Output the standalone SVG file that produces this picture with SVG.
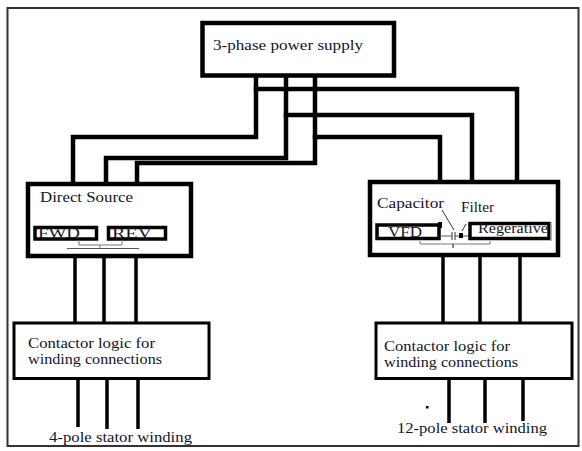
<svg xmlns="http://www.w3.org/2000/svg" width="582" height="451" viewBox="0 0 582 451">
<style>
.box{fill:#fff;stroke:#000;stroke-width:4.5}
.sub{fill:#fff;stroke:#000;stroke-width:3.5}
.w{fill:none;stroke:#000;stroke-width:4.5;stroke-linejoin:miter;stroke-linecap:square}
.o{fill:none;stroke:#000;stroke-width:3.5}
.thin{fill:none;stroke:#777;stroke-width:1}
.t{font-family:"Liberation Serif","Times New Roman",serif;font-size:15px;fill:#14142a}
.c{font-size:14px}
</style>
<rect width="582" height="451" fill="#fff"/>
<rect x="7.5" y="8" width="571" height="438" fill="none" stroke="#333" stroke-width="2"/>
<g id="connectors">
<polyline class="w" points="256,77 256,137 73,137 73,182"/>
<polyline class="w" points="256,89 517,89 517,180"/>
<polyline class="w" points="286,75 286,158 106,158 106,182"/>
<polyline class="w" points="286,115 472,115 472,180"/>
<polyline class="w" points="315,77 315,163 137,163 137,182"/>
<polyline class="w" points="315,137 440,137 440,180"/>
<line class="o" x1="75" y1="258" x2="75" y2="323"/>
<line class="o" x1="104" y1="258" x2="104" y2="323"/>
<line class="o" x1="136" y1="258" x2="136" y2="323"/>
<line class="o" x1="443" y1="257" x2="443" y2="323"/>
<line class="o" x1="480" y1="257" x2="480" y2="323"/>
<line class="o" x1="520" y1="257" x2="520" y2="323"/>
<line class="o" x1="78" y1="379" x2="78" y2="427"/>
<line class="o" x1="107" y1="379" x2="107" y2="429"/>
<line class="o" x1="138" y1="379" x2="138" y2="429"/>
<line class="o" x1="449" y1="379" x2="449" y2="423"/>
<line class="o" x1="485" y1="379" x2="485" y2="423"/>
<line class="o" x1="523" y1="379" x2="523" y2="421"/>
</g>
<g id="power-supply">
<rect class="box" x="202.5" y="23" width="191.5" height="52.5"/>
<text class="t" x="213" y="50" textLength="150" lengthAdjust="spacingAndGlyphs">3-phase power supply</text>
</g>
<g id="direct-source">
<rect class="box" x="28" y="184" width="163" height="72"/>
<text class="t" x="40" y="202" textLength="93" lengthAdjust="spacingAndGlyphs">Direct Source</text>
<rect class="sub" x="35" y="227.5" width="61.5" height="11.5"/>
<rect class="sub" x="108.5" y="227.5" width="57" height="11.5"/>
<text class="t" x="38" y="238" textLength="42" lengthAdjust="spacingAndGlyphs">FWD</text>
<text class="t" x="112" y="238" textLength="40" lengthAdjust="spacingAndGlyphs">REV</text>
<polyline class="thin" points="79,240 79,245 122,245 122,240"/>
<line class="thin" x1="100" y1="245" x2="100" y2="248"/>
<line x1="67" y1="248.5" x2="139" y2="248.5" stroke="#555" stroke-width="1.2"/>
</g>
<g id="vfd-source">
<rect class="box" x="370" y="182" width="188" height="73"/>
<text class="t" x="377" y="208" textLength="67" lengthAdjust="spacingAndGlyphs">Capacitor</text>
<text class="t" x="461" y="212" textLength="33" lengthAdjust="spacingAndGlyphs">Filter</text>
<line x1="442" y1="210" x2="454" y2="230" stroke="#333" stroke-width="1"/>
<line x1="466" y1="224" x2="462" y2="231" stroke="#333" stroke-width="1"/>
<rect class="sub" x="377" y="225" width="62" height="13.5"/>
<rect x="438" y="222" width="4" height="6" fill="#000"/>
<text class="t" x="388" y="237" textLength="34" lengthAdjust="spacingAndGlyphs">VFD</text>
<line x1="440" y1="236" x2="452" y2="236" stroke="#555" stroke-width="1"/>
<line x1="452" y1="232" x2="452" y2="240" stroke="#333" stroke-width="1"/>
<line x1="455" y1="232" x2="455" y2="240" stroke="#333" stroke-width="1"/>
<line x1="455" y1="236" x2="470" y2="236" stroke="#555" stroke-width="1"/>
<rect x="459" y="233" width="4" height="5" fill="#000"/>
<rect class="sub" x="470" y="223.5" width="79" height="15"/>
<line x1="551" y1="222" x2="551" y2="241" stroke="#999" stroke-width="1.5"/>
<text class="t" x="478" y="233" textLength="70" lengthAdjust="spacingAndGlyphs">Regerative</text>
<polyline class="thin" points="420,241 420,244 490,244 490,241"/>
<line x1="453" y1="244" x2="453" y2="248" stroke="#333" stroke-width="1.2"/>
</g>
<g id="contactor-left">
<rect x="14" y="323" width="195" height="55.5" fill="#fff" stroke="#000" stroke-width="3"/>
<text class="t c" x="28" y="348" textLength="127" lengthAdjust="spacingAndGlyphs">Contactor logic for</text>
<text class="t c" x="28" y="364" textLength="134" lengthAdjust="spacingAndGlyphs">winding connections</text>
</g>
<g id="contactor-right">
<rect x="376" y="323" width="196" height="55.5" fill="#fff" stroke="#000" stroke-width="3"/>
<text class="t c" x="384" y="351" textLength="126" lengthAdjust="spacingAndGlyphs">Contactor logic for</text>
<text class="t c" x="384" y="367" textLength="134" lengthAdjust="spacingAndGlyphs">winding connections</text>
</g>
<g id="winding-4pole">
<text class="t" x="49" y="442" textLength="143" lengthAdjust="spacingAndGlyphs">4-pole stator winding</text>
</g>
<g id="winding-12pole">
<rect x="426" y="406" width="2.5" height="2.5" fill="#000"/>
<text class="t" x="397" y="433" textLength="150" lengthAdjust="spacingAndGlyphs">12-pole stator winding</text>
</g>
</svg>
